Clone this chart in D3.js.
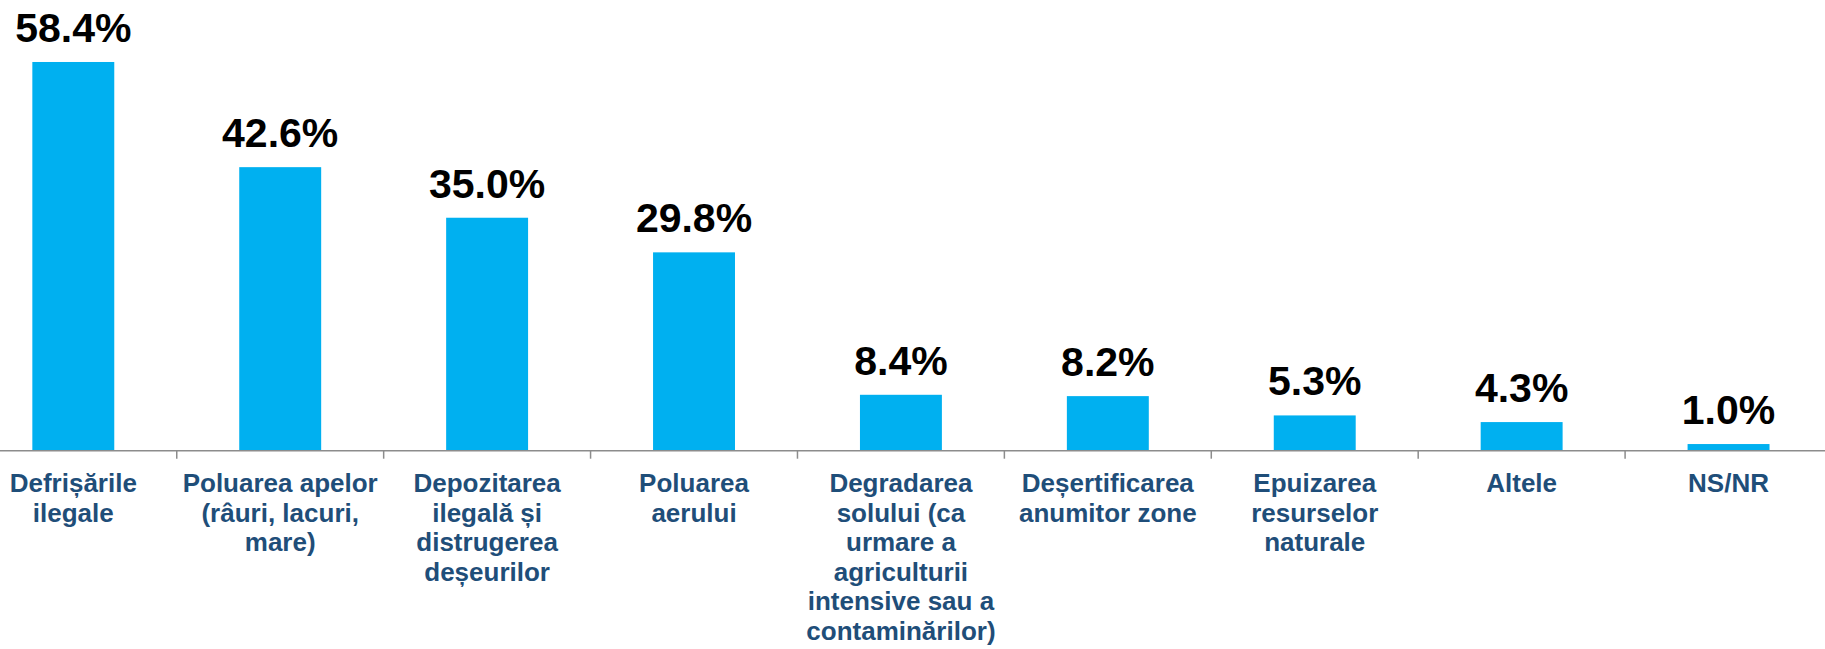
<!DOCTYPE html>
<html>
<head>
<meta charset="utf-8">
<script src="https://cdn.jsdelivr.net/npm/d3@7"></script>
<style>
  body { margin: 0; background: #fff; }
  svg { display: block; font-family: "Liberation Sans", Arial, sans-serif; }
</style>
</head>
<body>
<div id="chart"></div>
<script>
// categories (line breaks as in the original labels)
const categories = [
    "Defrișările\nilegale",
    "Poluarea apelor\n(râuri, lacuri,\nmare)",
    "Depozitarea\nilegală și\ndistrugerea\ndeșeurilor",
    "Poluarea\naerului",
    "Degradarea\nsolului (ca\nurmare a\nagriculturii\nintensive sau a\ncontaminărilor)",
    "Deșertificarea\nanumitor zone",
    "Epuizarea\nresurselor\nnaturale",
    "Altele",
    "NS/NR"
];
const values = [58.4, 42.6, 35.0, 29.8, 8.4, 8.2, 5.3, 4.3, 1.0];
const valueLabels = ["58.4%", "42.6%", "35.0%", "29.8%", "8.4%", "8.2%", "5.3%", "4.3%", "1.0%"];

const width = 1825, height = 649;
const axisY = 450.7;
const pad = 0.604;

const svg = d3.select("#chart").append("svg")
    .attr("width", width)
    .attr("height", height);

// band scale: step stays range/n, bar takes ~40% of it
const x = d3.scaleBand()
    .domain(categories)
    .range([-30.15, 1832])
    .paddingInner(pad)
    .paddingOuter(pad / 2);

const y = d3.scaleLinear()
    .domain([0, 60])
    .range([axisY, axisY - 60 * 6.656]);

// bars
svg.selectAll("rect.bar")
    .data(values)
    .join("rect")
    .attr("class", "bar")
    .attr("x", (d, i) => x(categories[i]))
    .attr("y", d => y(d))
    .attr("width", x.bandwidth())
    .attr("height", d => y(0) - y(d))
    .style("fill", "#00B0F0");

// axis line + ticks between categories
svg.append("line")
    .attr("x1", 0).attr("x2", width)
    .attr("y1", axisY).attr("y2", axisY)
    .style("stroke", "#8c8c8c")
    .style("stroke-width", 1.5);

const step = x.step();
svg.selectAll("line.tick")
    .data(categories)
    .join("line")
    .attr("class", "tick")
    .attr("x1", d => x(d) - step * pad / 2)
    .attr("x2", d => x(d) - step * pad / 2)
    .attr("y1", axisY)
    .attr("y2", axisY + 8)
    .style("stroke", "#8c8c8c")
    .style("stroke-width", 1.5);

// value labels
svg.selectAll("text.value")
    .data(values)
    .join("text")
    .attr("class", "value")
    .attr("x", (d, i) => x(categories[i]) + x.bandwidth() / 2)
    .attr("y", d => y(d) - 20)
    .attr("text-anchor", "middle")
    .style("font-size", "41px")
    .style("font-weight", "bold")
    .style("fill", "#000")
    .text((d, i) => valueLabels[i]);

// category labels
const lineH = 29.5;
const catText = svg.selectAll("text.cat")
    .data(categories)
    .join("text")
    .attr("class", "cat")
    .attr("text-anchor", "middle")
    .style("font-size", "26px")
    .style("font-weight", "bold")
    .style("fill", "#1F4E79");

catText.each(function(d) {
    const cx = x(d) + x.bandwidth() / 2;
    d3.select(this).selectAll("tspan")
        .data(d.split("\n"))
        .join("tspan")
        .attr("x", cx)
        .attr("y", (t, j) => 492.3 + j * lineH)
        .text(t => t);
});
</script>
</body>
</html>
